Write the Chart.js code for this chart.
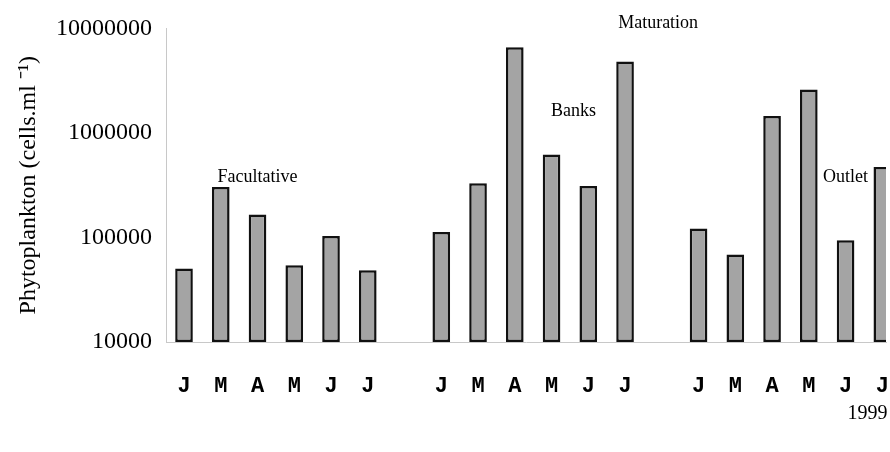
<!DOCTYPE html>
<html>
<head>
<meta charset="utf-8">
<script src="https://cdn.jsdelivr.net/npm/chart.js@4.4.1/dist/chart.umd.min.js"></script>
<style>
  html, body { margin: 0; padding: 0; background: #fff; overflow: hidden; }
  #wrap { width: 890px; height: 452px; position: relative; }
</style>
</head>
<body>
<div id="wrap"><canvas id="phytoChart"></canvas></div>
<script>
// Data
const months = ['J', 'M', 'A', 'M', 'J', 'J'];
const facultative = [50600, 304000, 166000, 54300, 103500, 48700];
const banksMaturation = [113000, 330000, 6600000, 621000, 311000, 4830000];
const outlet = [122000, 68900, 1450000, 2610000, 94000, 472000];
const yTicks = [10000, 100000, 1000000, 10000000];

// site names placed by slot index and value
const siteNames = ['Facultative', 'Banks', 'Maturation', 'Outlet'];
const siteIndex = [2, 10.6, 12.9, 18.0];
const siteValue = [377000, 1610000, 11200000, 373000];
const yearLabel = '1999';

// one blank slot between the ponds
const labels = [...months, '', ...months, '', ...months];
const values = [...facultative, null, ...banksMaturation, null, ...outlet];
const points = values.map((v, i) => ({ x: i, y: v })).filter(p => p.y !== null);

const serif = '"Liberation Serif", "Times New Roman", serif';

const siteLabels = {
  id: 'siteLabels',
  afterDraw(chart) {
    const { ctx, scales: { x, y }, chartArea } = chart;
    ctx.save();
    ctx.fillStyle = '#000';
    ctx.textAlign = 'center';
    ctx.textBaseline = 'middle';
    ctx.font = '18px ' + serif;
    siteNames.forEach((name, i) => {
      ctx.fillText(name, x.getPixelForValue(siteIndex[i]), y.getPixelForValue(siteValue[i]));
    });
    ctx.font = '20px ' + serif;
    ctx.fillText(yearLabel, x.getPixelForValue(18.6), chartArea.bottom + 72);
    ctx.restore();
  }
};

new Chart(document.getElementById('phytoChart'), {
  type: 'bar',
  data: {
    datasets: [{
      data: points,
      backgroundColor: '#a4a4a4',
      borderColor: '#111',
      borderWidth: 2.5,
      borderSkipped: false,
      barPercentage: 0.48,
      categoryPercentage: 1
    }]
  },
  options: {
    responsive: true,
    maintainAspectRatio: false,
    animation: false,
    layout: { padding: { top: 28, right: 4, left: 0, bottom: 0 } },
    plugins: { legend: { display: false }, tooltip: { enabled: false } },
    scales: {
      x: {
        // linear so the last slot can run past the right edge
        type: 'linear',
        offset: false,
        min: -0.49,
        max: 19.1,
        afterBuildTicks: s => { s.ticks = labels.map((l, i) => ({ value: i })); },
        grid: { display: false, drawTicks: false, offset: false },
        border: { display: true, color: '#c8c8c8', dash: [1, 3] },
        ticks: {
          color: '#000',
          padding: 31,
          autoSkip: false,
          maxRotation: 0,
          font: { family: '"Liberation Mono", "Courier New", monospace', size: 22, weight: 'bold' },
          callback: v => labels[v] ?? ''
        },
        afterFit: s => {
          s.height = 110;
          s.paddingLeft = 0;
          s.paddingRight = 0;
        }
      },
      y: {
        type: 'logarithmic',
        min: 10000,
        max: 10000000,
        afterBuildTicks: s => { s.ticks = yTicks.map(v => ({ value: v })); },
        grid: { display: false, drawTicks: false },
        border: { display: true, color: '#c8c8c8', dash: [1, 3] },
        ticks: {
          color: '#000',
          padding: 14,
          font: { family: serif, size: 24 },
          callback: v => String(v)
        },
        title: {
          display: true,
          text: 'Phytoplankton (cells.ml ⁻¹)',
          color: '#000',
          padding: { top: 14, bottom: 0 },
          font: { family: serif, size: 24 }
        },
        afterFit: s => { s.width = 166; }
      }
    }
  },
  plugins: [siteLabels]
});
</script>
</body>
</html>
